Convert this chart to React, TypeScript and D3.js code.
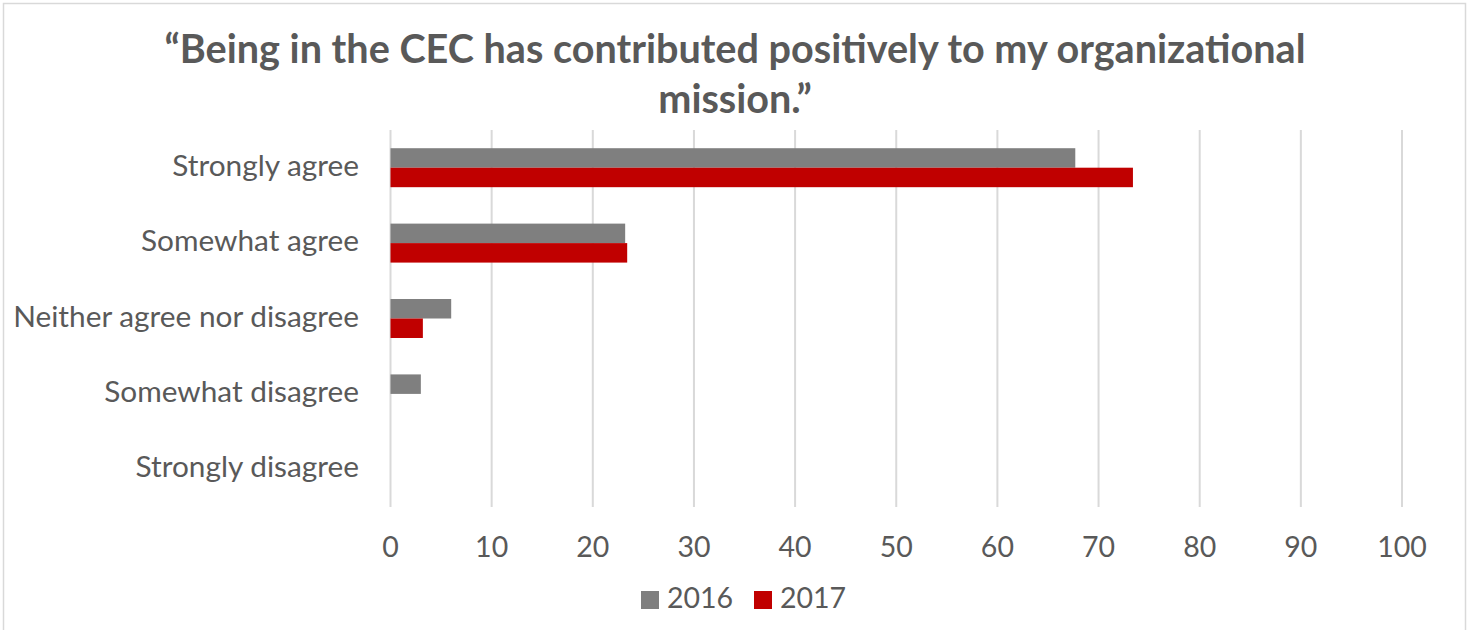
import React from "react";
import * as d3 from "d3";

const categories = [
  "Strongly agree",
  "Somewhat agree",
  "Neither agree nor disagree",
  "Somewhat disagree",
  "Strongly disagree",
];
const seriesNames = ["2016", "2017"];
const values2016 = [67.7, 23.2, 6.0, 3.0, 0];
const values2017 = [73.4, 23.4, 3.2, 0, 0];
const xTicks = [0, 10, 20, 30, 40, 50, 60, 70, 80, 90, 100];
const titleLines = [
  "\u201CBeing in the CEC has contributed positively to my organizational",
  "mission.\u201D",
];

const colors: Record<string, string> = { "2016": "#7f7f7f", "2017": "#c00000" };
const textColor = "#595959";
const font = "Lato, 'Open Sans', sans-serif";

export default function App() {
  const W = 1470;
  const H = 630;
  const x = d3.scaleLinear().domain([0, 100]).range([390.5, 1402]);
  const y = d3
    .scaleBand<string>()
    .domain(categories)
    .range([130, 507])
    .paddingInner(0.483)
    .paddingOuter(0.2415);
  const ySub = d3
    .scaleBand<string>()
    .domain(seriesNames)
    .range([0, y.bandwidth()]);
  const seriesValues: Record<string, number[]> = {
    "2016": values2016,
    "2017": values2017,
  };

  return (
    <div style={{ position: "absolute", left: 0, top: 0 }}>
      <svg width={W} height={H} style={{ display: "block", background: "#fff" }}>
        <rect x={3.5} y={3.5} width={1462} height={H + 10} fill="#fff" stroke="#d9d9d9" strokeWidth={1.5} />
        {titleLines.map((t, i) => (
          <text
            key={i}
            x={735}
            y={63 + i * 50}
            textAnchor="middle"
            fontFamily={font}
            fontWeight="bold"
            fontSize={39.6}
            fill={textColor}
          >
            {t}
          </text>
        ))}
        {xTicks.map((t) => (
          <g key={t}>
            <line x1={x(t)} x2={x(t)} y1={130} y2={507} stroke="#d9d9d9" strokeWidth={2} />
            <text
              x={x(t)}
              y={557}
              textAnchor="middle"
              fontFamily={font}
              fontSize={28.5}
              fill={textColor}
            >
              {t}
            </text>
          </g>
        ))}
        {categories.map((c, i) => (
          <g key={c}>
            <text
              x={359}
              y={(y(c) as number) + y.bandwidth() / 2 + 8}
              textAnchor="end"
              fontFamily={font}
              fontSize={29.8}
              fill={textColor}
            >
              {c}
            </text>
            {seriesNames.map((s) => {
              const v = seriesValues[s][i];
              if (!v) return null;
              return (
                <rect
                  key={s}
                  x={x(0)}
                  y={(y(c) as number) + (ySub(s) as number)}
                  width={x(v) - x(0)}
                  height={ySub.bandwidth()}
                  fill={colors[s]}
                />
              );
            })}
          </g>
        ))}
        {seriesNames.map((s, i) => (
          <g key={s} transform={`translate(${641 + i * 113},0)`}>
            <rect x={0} y={591} width={18} height={18} fill={colors[s]} />
            <text x={26} y={608} fontFamily={font} fontSize={28.5} fill={textColor}>
              {s}
            </text>
          </g>
        ))}
      </svg>
    </div>
  );
}
